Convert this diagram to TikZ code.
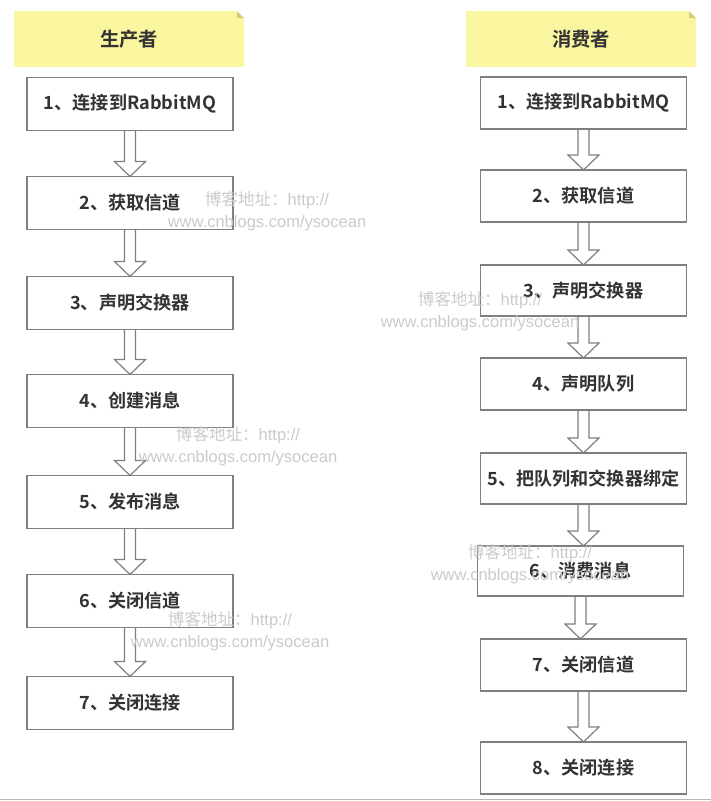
\documentclass[tikz,border=0pt]{standalone}
\usepackage{fontspec}
\setmainfont{Noto Sans CJK SC}[BoldFont={Noto Sans CJK SC Bold}]
\newfontfamily\wmlatin{Liberation Sans}
\usepackage{xcolor}
\usetikzlibrary{positioning}
\usetikzlibrary{calc}
\definecolor{notefill}{HTML}{FAF59F}
\definecolor{notefold}{HTML}{D3CD78}
\definecolor{boxline}{HTML}{7F7F7F}
\definecolor{boxtext}{HTML}{333333}
\definecolor{wmgray}{HTML}{CBCBCB}
\tikzset{stepbox/.style={draw=boxline, line width=0.9pt, fill=white,
minimum width=154.5pt, minimum height=39.75pt, inner sep=0pt, outer sep=0pt,
font=\fontsize{13.6}{15}\selectfont\bfseries, text=boxtext},
notehead/.style={fill=notefill, minimum width=172.5pt, minimum height=42pt,
inner sep=0pt, outer sep=0pt, font=\fontsize{14.5}{17}\selectfont\bfseries, text=boxtext}}
\newcommand{\flowarrow}[2]{%
\coordinate (tip) at (#1.south |- #2.north);
\draw[flow] ($(#1.south)+(-5.5,0)$) -- ($(tip)+(-5.5,-15)$) -- ++(-10,0) -- (tip)
-- ++(15.5,-15) -- ++(-10,0) -- ($(#1.south)+(5.5,0)$);}

\begin{document}
\begin{tikzpicture}[x=0.75pt, y=-0.75pt,
flow/.style={draw=boxline, line width=0.9pt, line join=miter},
watermark/.style={align=center, text=wmgray, font=\fontsize{12.4}{16.5}\selectfont},
fold/.style={fill=notefold}]
	\useasboundingbox (0,0) rectangle (711,801);
	\fill[white] (0,0) rectangle (711,801);
	\draw[draw=wmgray!90!black, line width=0.75pt] (0,799.5) -- (711,799.5);
	\node[notehead] (prod) at (129,39) {生产者};
	\node[notehead] (cons) at (581,39) {消费者};
	\fill[white] (prod.north east) -- ++(-7,0) -- ++(7,7) -- cycle;
	\fill[fold] ($(prod.north east)+(-7,0)$) -- ++(0,7) -- ++(7,0) -- cycle;
	\fill[white] (cons.north east) -- ++(-7,0) -- ++(7,7) -- cycle;
	\fill[fold] ($(cons.north east)+(-7,0)$) -- ++(0,7) -- ++(7,0) -- cycle;
	\node[stepbox] (p1) at (130,104) {1、连接到RabbitMQ};
	\node[stepbox, below=34.5pt of p1] (p2) {2、获取信道};
	\node[stepbox, below=35.25pt of p2] (p3) {3、声明交换器};
	\node[stepbox, below=33.75pt of p3] (p4) {4、创建消息};
	\node[stepbox, below=36pt of p4] (p5) {5、发布消息};
	\node[stepbox, below=34.5pt of p5] (p6) {6、关闭信道};
	\node[stepbox, below=36.75pt of p6] (p7) {7、关闭连接};
	\node[stepbox, minimum height=39pt] (c1) at (583.5,103) {1、连接到RabbitMQ};
	\node[stepbox, minimum height=39pt, below=30.75pt of c1] (c2) {2、获取信道};
	\node[stepbox, minimum height=38.25pt, below=32.25pt of c2] (c3) {3、声明交换器};
	\node[stepbox, minimum height=39pt, below=31.5pt of c3] (c4) {4、声明队列};
	\node[stepbox, minimum height=38.25pt, below=32.25pt of c4] (c5) {5、把队列和交换器绑定};
	\node[stepbox, minimum height=37.5pt, below=31.5pt of c5, xshift=-2.25pt] (c6) {6、消费消息};
	\node[stepbox, minimum height=39pt, below=32.25pt of c6, xshift=2.25pt] (c7) {7、关闭信道};
	\node[stepbox, minimum height=39pt, below=38.25pt of c7] (c8) {8、关闭连接};
	\flowarrow{p1}{p2}
	\flowarrow{p2}{p3}
	\flowarrow{p3}{p4}
	\flowarrow{p4}{p5}
	\flowarrow{p5}{p6}
	\flowarrow{p6}{p7}
	\flowarrow{c1}{c2}
	\flowarrow{c2}{c3}
	\flowarrow{c3}{c4}
	\flowarrow{c4}{c5}
	\flowarrow{c5}{c6}
	\flowarrow{c6}{c7}
	\flowarrow{c7}{c8}
	\node[watermark] (wm1) at (267,211) {博客地址：{\wmlatin http://}\\{\wmlatin www.cnblogs.com/ysocean}};
	\node[watermark] (wm2) at (480,311) {博客地址：{\wmlatin http://}\\{\wmlatin www.cnblogs.com/ysocean}};
	\node[watermark] (wm3) at (238,446) {博客地址：{\wmlatin http://}\\{\wmlatin www.cnblogs.com/ysocean}};
	\node[watermark] (wm4) at (530,564) {博客地址：{\wmlatin http://}\\{\wmlatin www.cnblogs.com/ysocean}};
	\node[watermark] (wm5) at (230,631) {博客地址：{\wmlatin http://}\\{\wmlatin www.cnblogs.com/ysocean}};
\end{tikzpicture}
\end{document}
